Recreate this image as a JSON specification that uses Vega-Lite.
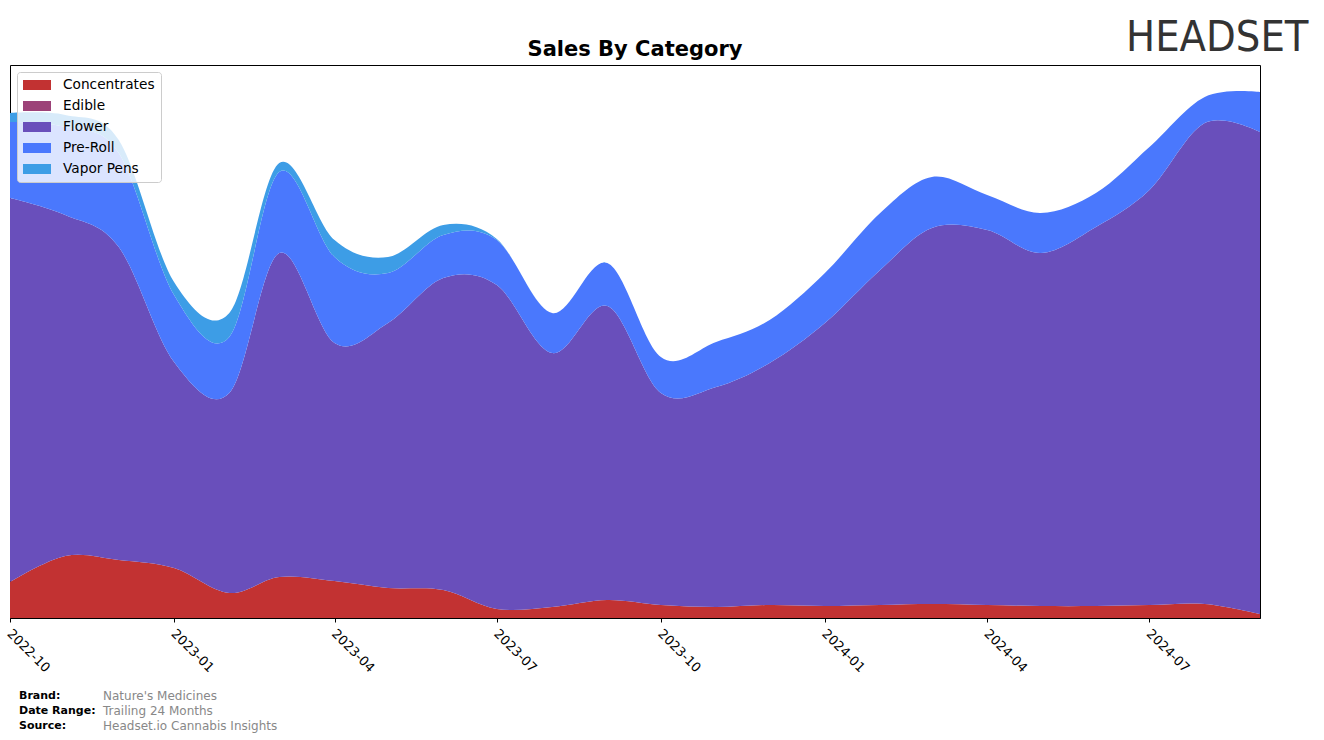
{
  "$schema": "https://vega.github.io/schema/vega-lite/v6.json",
  "background": "white",
  "padding": {"left": 3, "top": 16, "right": 5, "bottom": 5},
  "config": {"view": {"stroke": null}, "font": "DejaVu Sans"},
  "title": {"text": "HEADSET", "anchor": "end", "font": "Liberation Sans Narrow, DejaVu Sans Condensed, DejaVu Sans", "fontSize": 43, "fontWeight": "normal", "color": "#333333", "dx": 48, "dy": 21, "offset": 0},
  "spacing": 12,
  "vconcat": [
    {
      "width": 1250,
      "height": 553,
      "view": {"stroke": "black", "strokeWidth": 1},
      "title": {"text": "Sales By Category", "fontSize": 21, "font": "DejaVu Sans", "fontWeight": "bold", "color": "black", "anchor": "middle", "offset": 5},
      "data": {"values": [
        {"month": "2022-10-01", "category": "Concentrates", "value": 36},
        {"month": "2022-11-01", "category": "Concentrates", "value": 62},
        {"month": "2022-12-01", "category": "Concentrates", "value": 58},
        {"month": "2023-01-01", "category": "Concentrates", "value": 50},
        {"month": "2023-02-01", "category": "Concentrates", "value": 25},
        {"month": "2023-03-01", "category": "Concentrates", "value": 41},
        {"month": "2023-04-01", "category": "Concentrates", "value": 37},
        {"month": "2023-05-01", "category": "Concentrates", "value": 30},
        {"month": "2023-06-01", "category": "Concentrates", "value": 28},
        {"month": "2023-07-01", "category": "Concentrates", "value": 9},
        {"month": "2023-08-01", "category": "Concentrates", "value": 11},
        {"month": "2023-09-01", "category": "Concentrates", "value": 18},
        {"month": "2023-10-01", "category": "Concentrates", "value": 13},
        {"month": "2023-11-01", "category": "Concentrates", "value": 11},
        {"month": "2023-12-01", "category": "Concentrates", "value": 13},
        {"month": "2024-01-01", "category": "Concentrates", "value": 12},
        {"month": "2024-02-01", "category": "Concentrates", "value": 13},
        {"month": "2024-03-01", "category": "Concentrates", "value": 14},
        {"month": "2024-04-01", "category": "Concentrates", "value": 13},
        {"month": "2024-05-01", "category": "Concentrates", "value": 12},
        {"month": "2024-06-01", "category": "Concentrates", "value": 12},
        {"month": "2024-07-01", "category": "Concentrates", "value": 13},
        {"month": "2024-08-01", "category": "Concentrates", "value": 14},
        {"month": "2024-09-01", "category": "Concentrates", "value": 4},
        {"month": "2022-10-01", "category": "Flower", "value": 384},
        {"month": "2022-11-01", "category": "Flower", "value": 341},
        {"month": "2022-12-01", "category": "Flower", "value": 313},
        {"month": "2023-01-01", "category": "Flower", "value": 206},
        {"month": "2023-02-01", "category": "Flower", "value": 200},
        {"month": "2023-03-01", "category": "Flower", "value": 324},
        {"month": "2023-04-01", "category": "Flower", "value": 238},
        {"month": "2023-05-01", "category": "Flower", "value": 265},
        {"month": "2023-06-01", "category": "Flower", "value": 312},
        {"month": "2023-07-01", "category": "Flower", "value": 324},
        {"month": "2023-08-01", "category": "Flower", "value": 254},
        {"month": "2023-09-01", "category": "Flower", "value": 294},
        {"month": "2023-10-01", "category": "Flower", "value": 212},
        {"month": "2023-11-01", "category": "Flower", "value": 220},
        {"month": "2023-12-01", "category": "Flower", "value": 242},
        {"month": "2024-01-01", "category": "Flower", "value": 283},
        {"month": "2024-02-01", "category": "Flower", "value": 335},
        {"month": "2024-03-01", "category": "Flower", "value": 376},
        {"month": "2024-04-01", "category": "Flower", "value": 375},
        {"month": "2024-05-01", "category": "Flower", "value": 353},
        {"month": "2024-06-01", "category": "Flower", "value": 379},
        {"month": "2024-07-01", "category": "Flower", "value": 415},
        {"month": "2024-08-01", "category": "Flower", "value": 481},
        {"month": "2024-09-01", "category": "Flower", "value": 482},
        {"month": "2022-10-01", "category": "Pre-Roll", "value": 76},
        {"month": "2022-11-01", "category": "Pre-Roll", "value": 88},
        {"month": "2022-12-01", "category": "Pre-Roll", "value": 94},
        {"month": "2023-01-01", "category": "Pre-Roll", "value": 67},
        {"month": "2023-02-01", "category": "Pre-Roll", "value": 56},
        {"month": "2023-03-01", "category": "Pre-Roll", "value": 81},
        {"month": "2023-04-01", "category": "Pre-Roll", "value": 86},
        {"month": "2023-05-01", "category": "Pre-Roll", "value": 50},
        {"month": "2023-06-01", "category": "Pre-Roll", "value": 43},
        {"month": "2023-07-01", "category": "Pre-Roll", "value": 45},
        {"month": "2023-08-01", "category": "Pre-Roll", "value": 40},
        {"month": "2023-09-01", "category": "Pre-Roll", "value": 43},
        {"month": "2023-10-01", "category": "Pre-Roll", "value": 36},
        {"month": "2023-11-01", "category": "Pre-Roll", "value": 45},
        {"month": "2023-12-01", "category": "Pre-Roll", "value": 43},
        {"month": "2024-01-01", "category": "Pre-Roll", "value": 50},
        {"month": "2024-02-01", "category": "Pre-Roll", "value": 57},
        {"month": "2024-03-01", "category": "Pre-Roll", "value": 51},
        {"month": "2024-04-01", "category": "Pre-Roll", "value": 35},
        {"month": "2024-05-01", "category": "Pre-Roll", "value": 40},
        {"month": "2024-06-01", "category": "Pre-Roll", "value": 34},
        {"month": "2024-07-01", "category": "Pre-Roll", "value": 43},
        {"month": "2024-08-01", "category": "Pre-Roll", "value": 26},
        {"month": "2024-09-01", "category": "Pre-Roll", "value": 40},
        {"month": "2022-10-01", "category": "Vapor Pens", "value": 9},
        {"month": "2022-11-01", "category": "Vapor Pens", "value": 12},
        {"month": "2022-12-01", "category": "Vapor Pens", "value": 13},
        {"month": "2023-01-01", "category": "Vapor Pens", "value": 13},
        {"month": "2023-02-01", "category": "Vapor Pens", "value": 24},
        {"month": "2023-03-01", "category": "Vapor Pens", "value": 9},
        {"month": "2023-04-01", "category": "Vapor Pens", "value": 17},
        {"month": "2023-05-01", "category": "Vapor Pens", "value": 16},
        {"month": "2023-06-01", "category": "Vapor Pens", "value": 10},
        {"month": "2023-07-01", "category": "Vapor Pens", "value": 1},
        {"month": "2023-08-01", "category": "Vapor Pens", "value": 0},
        {"month": "2023-09-01", "category": "Vapor Pens", "value": 0},
        {"month": "2023-10-01", "category": "Vapor Pens", "value": 0},
        {"month": "2023-11-01", "category": "Vapor Pens", "value": 0},
        {"month": "2023-12-01", "category": "Vapor Pens", "value": 0},
        {"month": "2024-01-01", "category": "Vapor Pens", "value": 0},
        {"month": "2024-02-01", "category": "Vapor Pens", "value": 0},
        {"month": "2024-03-01", "category": "Vapor Pens", "value": 0},
        {"month": "2024-04-01", "category": "Vapor Pens", "value": 0},
        {"month": "2024-05-01", "category": "Vapor Pens", "value": 0},
        {"month": "2024-06-01", "category": "Vapor Pens", "value": 0},
        {"month": "2024-07-01", "category": "Vapor Pens", "value": 0},
        {"month": "2024-08-01", "category": "Vapor Pens", "value": 0},
        {"month": "2024-09-01", "category": "Vapor Pens", "value": 0}
      ]},
      "mark": {"type": "area", "interpolate": "cardinal", "opacity": 1},
      "encoding": {
        "x": {
          "field": "month", "type": "temporal",
          "scale": {"type": "utc", "domain": [{"year": 2022, "month": 10, "date": 1, "utc": true}, {"year": 2024, "month": 9, "date": 1, "utc": true}]},
          "axis": {
            "title": null, "grid": false,
            "labelExpr": "utcFormat(datum.value, '%Y-%m')",
            "values": [
              {"year": 2022, "month": 10, "date": 1, "utc": true},
              {"year": 2023, "month": 1, "date": 1, "utc": true},
              {"year": 2023, "month": 4, "date": 1, "utc": true},
              {"year": 2023, "month": 7, "date": 1, "utc": true},
              {"year": 2023, "month": 10, "date": 1, "utc": true},
              {"year": 2024, "month": 1, "date": 1, "utc": true},
              {"year": 2024, "month": 4, "date": 1, "utc": true},
              {"year": 2024, "month": 7, "date": 1, "utc": true}
            ],
            "labelAngle": 45, "labelAlign": "left", "labelBaseline": "top",
            "labelFont": "DejaVu Sans", "labelFontSize": 13, "labelColor": "black",
            "labelPadding": 5, "labelOffset": 3, "labelOverlap": false, "labelFlush": false,
            "tickColor": "black", "tickSize": 4, "domainColor": "black"
          }
        },
        "y": {"field": "value", "type": "quantitative", "stack": "zero", "scale": {"domain": [0, 553], "nice": false, "zero": true}, "axis": null},
        "order": {"field": "category", "type": "nominal", "sort": "ascending"},
        "color": {
          "field": "category", "type": "nominal",
          "scale": {"domain": ["Concentrates", "Edible", "Flower", "Pre-Roll", "Vapor Pens"], "range": ["#c23232", "#9c4278", "#694fbb", "#4a78fd", "#3d9de6"]},
          "legend": {
            "title": null, "orient": "none", "legendX": 7, "legendY": 7, "direction": "vertical",
            "fillColor": "rgba(255,255,255,0.8)", "strokeColor": "#cccccc", "cornerRadius": 3, "padding": 6,
            "symbolType": "M-1,-0.36H1V0.36H-1Z", "symbolSize": 784, "symbolStrokeWidth": 0, "symbolOpacity": 1,
            "clipHeight": 14, "rowPadding": 7, "labelOffset": 12,
            "labelFont": "DejaVu Sans", "labelFontSize": 13.7, "labelColor": "black"
          }
        }
      }
    },
    {
      "width": 18,
      "height": 45,
      "data": {"values": [
        {"k": "Brand:", "v": "Nature's Medicines"},
        {"k": "Date Range:", "v": "Trailing 24 Months"},
        {"k": "Source:", "v": "Headset.io Cannabis Insights"}
      ]},
      "layer": [
        {
          "mark": {"type": "text", "align": "left", "baseline": "middle", "font": "DejaVu Sans", "fontWeight": "bold", "fontSize": 11, "color": "black"},
          "encoding": {"y": {"field": "k", "type": "ordinal", "sort": null, "axis": null}, "text": {"field": "k"}}
        },
        {
          "mark": {"type": "text", "align": "left", "baseline": "middle", "font": "DejaVu Sans", "fontSize": 12, "color": "#888888", "dx": 84},
          "encoding": {"y": {"field": "k", "type": "ordinal", "sort": null, "axis": null}, "text": {"field": "v"}}
        }
      ]
    }
  ]
}
